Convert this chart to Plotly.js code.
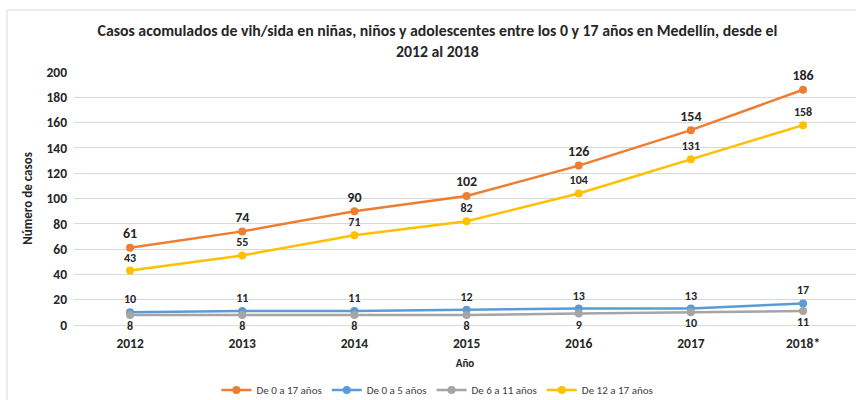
<!DOCTYPE html>
<html>
<head>
<meta charset="utf-8">
<script src="https://cdn.plot.ly/plotly-3.0.1.min.js"></script>
<style>html,body{margin:0;padding:0;background:#fff;}#chart{width:856px;height:400px;}</style>
</head>
<body>
<div id="chart"></div>
<script>
const years = ["2012", "2013", "2014", "2015", "2016", "2017", "2018*"];
const de0a17 = [61, 74, 90, 102, 126, 154, 186];
const de0a5 = [10, 11, 11, 12, 13, 13, 17];
const de6a11 = [8, 8, 8, 8, 9, 10, 11];
const de12a17 = [43, 55, 71, 82, 104, 131, 158];
const seriesNames = ["De 0 a 17 años", "De 0 a 5 años", "De 6 a 11 años", "De 12 a 17 años"];
const yTicks = [0, 20, 40, 60, 80, 100, 120, 140, 160, 180, 200];

const FONT = "Carlito, 'Liberation Sans Narrow', 'Liberation Sans', sans-serif";
const TXT = "#262626";

function mk(name, vals, color, pos, size) {
  return {
    type: "scatter", mode: "lines+markers+text", name: name,
    x: years, y: vals,
    text: vals.map(String), textposition: pos,
    textfont: {family: FONT, size: size, color: TXT, weight: "bold"},
    line: {color: color, width: 2.5},
    marker: {color: color, size: 8},
    cliponaxis: false
  };
}

const data = [
  mk(seriesNames[0], de0a17, "#ED7D31", "top center", 14),
  mk(seriesNames[1], de0a5, "#5B9BD5", "top center", 12),
  mk(seriesNames[2], de6a11, "#A5A5A5", "bottom center", 12),
  mk(seriesNames[3], de12a17, "#FFC000", "top center", 12)
];

const layout = {
  width: 856, height: 400,
  margin: {l: 74, r: 0, t: 72, b: 75},
  paper_bgcolor: "#fff", plot_bgcolor: "#fff",
  font: {family: FONT, color: TXT},
  title: {
    text: "Casos acomulados de vih/sida en niñas, niños y adolescentes entre los 0 y 17 años en Medellín, desde el<br>2012 al 2018",
    font: {family: FONT, size: 15.8, color: TXT, weight: "bold"},
    x: 0.511, xanchor: "center", xref: "container",
    y: 0.909, yanchor: "middle", yref: "container"
  },
  xaxis: {
    type: "category", range: [-0.5, 6.472],
    showgrid: false, zeroline: false, showline: false, ticks: "",
    tickfont: {family: FONT, size: 13.5, color: TXT, weight: "bold"},
    ticklabelstandoff: 8,
    title: {text: "Año", font: {family: FONT, size: 11, color: TXT, weight: "bold"}, standoff: 8}
  },
  yaxis: {
    range: [0, 200], tickvals: yTicks, ticktext: yTicks.map(String),
    showgrid: true, gridcolor: "#d9d9d9", gridwidth: 1,
    zeroline: true, zerolinecolor: "#d9d9d9", showline: false, ticks: "",
    tickfont: {family: FONT, size: 13.5, color: TXT, weight: "bold"},
    ticklabelstandoff: 6,
    title: {text: "Número de casos", font: {family: FONT, size: 13, color: TXT, weight: "bold"}, standoff: 10}
  },
  showlegend: true,
  legend: {
    orientation: "h", xref: "container", yref: "container",
    x: 0.511, xanchor: "center", y: 0.025, yanchor: "middle",
    font: {family: FONT, size: 11, color: "#404040"},
    itemwidth: 30
  },
  shapes: [{
    type: "rect", xref: "paper", yref: "paper",
    x0: -0.0857, x1: 1.2, y0: -0.5, y1: 1.245,
    line: {color: "#d9d9d9", width: 1}, fillcolor: "rgba(0,0,0,0)", layer: "below"
  }]
};

Plotly.newPlot("chart", data, layout, {displayModeBar: false, staticPlot: true});
</script>
</body>
</html>
